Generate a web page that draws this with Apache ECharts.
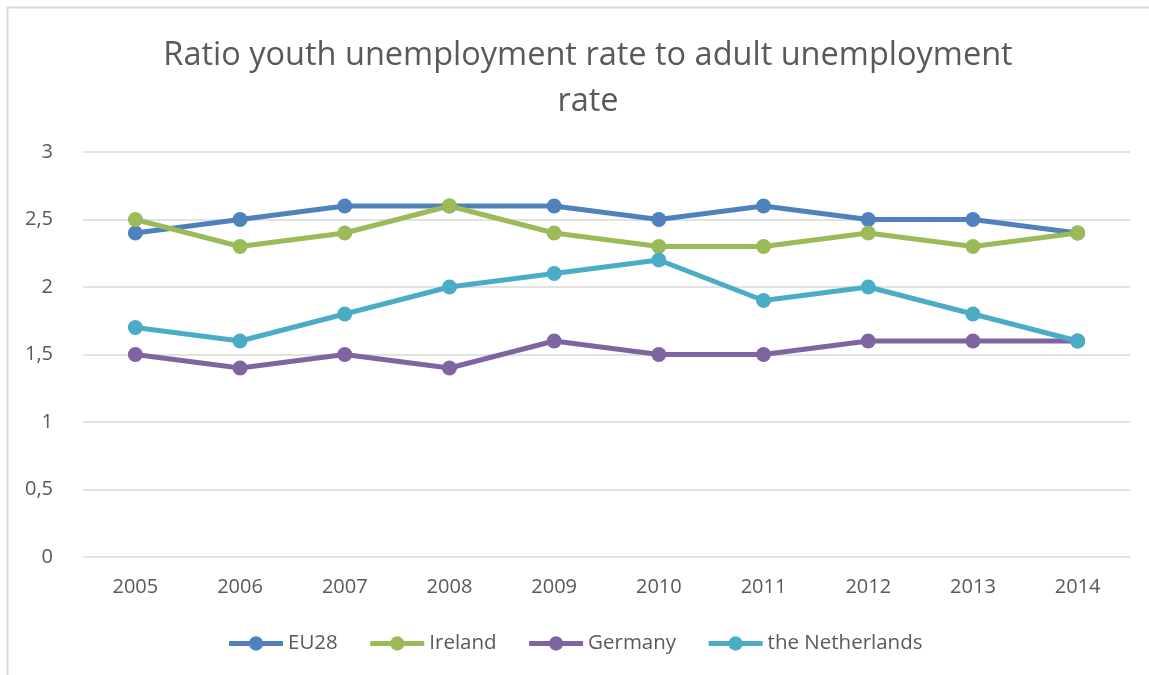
<!DOCTYPE html>
<html><head><meta charset="utf-8">
<script src="https://cdn.jsdelivr.net/npm/echarts@6/dist/echarts.min.js"></script>
<style>html,body{margin:0;padding:0;background:#fff}#c{width:1149px;height:675px}</style>
</head><body><div id="c"></div>
<script>
const categories = ['2005','2006','2007','2008','2009','2010','2011','2012','2013','2014'];
const eu28 = [2.4, 2.5, 2.6, 2.6, 2.6, 2.5, 2.6, 2.5, 2.5, 2.4];
const ireland = [2.5, 2.3, 2.4, 2.6, 2.4, 2.3, 2.3, 2.4, 2.3, 2.4];
const germany = [1.5, 1.4, 1.5, 1.4, 1.6, 1.5, 1.5, 1.6, 1.6, 1.6];
const netherlands = [1.7, 1.6, 1.8, 2.0, 2.1, 2.2, 1.9, 2.0, 1.8, 1.6];
const seriesNames = ['EU28','Ireland','Germany','the Netherlands'];
const colors = ['#4F81BD','#9BBB59','#8064A2','#4BACC6'];
const values = [eu28, ireland, germany, netherlands];
const font = 'Open Sans';
const chart = echarts.init(document.getElementById('c'));
chart.setOption({
  animation: false,
  color: colors,
  title: {
    text: 'Ratio youth unemployment rate to adult unemployment\nrate',
    left: 583, top: 28, textAlign: 'center',
    textStyle: {fontFamily: font, fontSize: 32.5, fontWeight: 'normal', color: '#595959', lineHeight: 46}
  },
  graphic: [{type:'rect', shape:{x:7.5,y:7.5,width:1200,height:700}, style:{fill:'none',stroke:'#D9D9D9',lineWidth:2}, silent:true}],
  legend: {
    bottom: 16, left: 'center', itemWidth: 54, itemHeight: 18, itemGap: 30,
    lineStyle: {width: 5},
    textStyle: {fontFamily: font, fontSize: 20.5, color: '#595959'},
    data: seriesNames
  },
  grid: {left: 83, right: 19, top: 152, bottom: 118},
  xAxis: {
    type: 'category', data: categories, boundaryGap: true,
    axisLine: {show: false}, axisTick: {show: false},
    axisLabel: {fontFamily: font, fontSize: 20, color: '#595959', margin: 20}
  },
  yAxis: {
    type: 'value', min: 0, max: 3, interval: 0.5,
    axisLabel: {fontFamily: font, fontSize: 20, color: '#595959', margin: 30,
      formatter: v => String(v).replace('.', ',')},
    splitLine: {lineStyle: {color: '#D9D9D9', width: 1.5}}
  },
  series: values.map((d, i) => ({
    name: seriesNames[i], type: 'line', data: d,
    symbol: 'circle', symbolSize: 15,
    lineStyle: {width: 5, color: colors[i]},
    itemStyle: {color: colors[i]}
  }))
});
</script></body></html>
